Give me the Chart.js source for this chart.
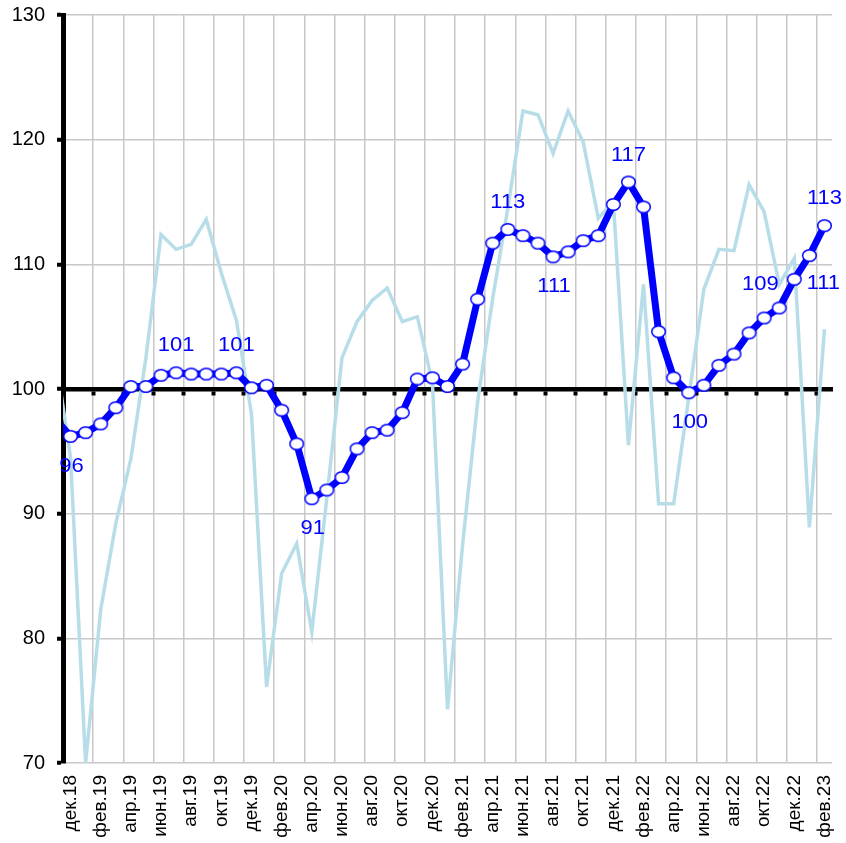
<!DOCTYPE html>
<html>
<head>
<meta charset="utf-8">
<script src="https://cdn.jsdelivr.net/npm/chart.js@4.4.0/dist/chart.umd.min.js"></script>
<style>
  html, body { margin: 0; padding: 0; background: #fff; }
  canvas { display: block; }
</style>
</head>
<body>
<canvas id="chart" width="846" height="843"></canvas>
<script>
// Monthly categories; the first one only feeds the line that enters from the left edge
const months = [
  'ноя.18', 'дек.18',
  'янв.19', 'фев.19', 'мар.19', 'апр.19', 'май.19', 'июн.19', 'июл.19', 'авг.19', 'сен.19', 'окт.19', 'ноя.19', 'дек.19',
  'янв.20', 'фев.20', 'мар.20', 'апр.20', 'май.20', 'июн.20', 'июл.20', 'авг.20', 'сен.20', 'окт.20', 'ноя.20', 'дек.20',
  'янв.21', 'фев.21', 'мар.21', 'апр.21', 'май.21', 'июн.21', 'июл.21', 'авг.21', 'сен.21', 'окт.21', 'ноя.21', 'дек.21',
  'янв.22', 'фев.22', 'мар.22', 'апр.22', 'май.22', 'июн.22', 'июл.22', 'авг.22', 'сен.22', 'окт.22', 'ноя.22', 'дек.22',
  'янв.23', 'фев.23'
];
const firstShownMonth = 'дек.18';

// Smoothed index (thick blue line with markers)
const smoothedIndex = [
  97.6, 96.2,
  96.5, 97.2, 98.5, 100.2, 100.2, 101.1, 101.3, 101.2, 101.2, 101.2, 101.3, 100.1,
  100.3, 98.3, 95.6, 91.2, 91.9, 92.9, 95.2, 96.5, 96.7, 98.1, 100.8, 100.9,
  100.2, 102.0, 107.2, 111.7, 112.8, 112.3, 111.7, 110.6, 111.0, 111.9, 112.3, 114.8,
  116.6, 114.6, 104.6, 100.9, 99.7, 100.3, 101.9, 102.8, 104.5, 105.7, 106.5, 108.8,
  110.7, 113.1
];

// Raw monthly index (thin light-blue line)
const monthlyIndex = [
  102.7, 94.5,
  70.0, 82.3, 89.2, 94.4, 102.5, 112.4, 111.2, 111.6, 113.6, 109.3, 105.5, 98.0,
  76.1, 85.2, 87.6, 80.5, 91.3, 102.5, 105.4, 107.1, 108.1, 105.4, 105.8, 100.5,
  74.3, 87.5, 99.0, 107.3, 114.5, 122.3, 122.0, 118.9, 122.3, 119.8, 113.7, 115.0,
  95.5, 108.4, 90.8, 90.8, 99.3, 108.0, 111.2, 111.1, 116.4, 114.2, 108.4, 110.5,
  88.9, 104.8
];

// Value axis
const yMin = 70;
const yMax = 130;
const yStep = 10;
const baseLevel = 100;

// Points of the smoothed index that carry a value label, and where it sits
const labelledMonths = [
  ['дек.18', 'below'], ['июл.19', 'above'], ['ноя.19', 'above'], ['апр.20', 'below'],
  ['май.21', 'above'], ['авг.21', 'below'], ['янв.22', 'above'], ['май.22', 'below'],
  ['дек.22', 'left'], ['янв.23', 'belowRight'], ['фев.23', 'above']
];

const labelOffsets = {
  above: [0, -27],
  below: [1, 30],
  left: [-34, 5],
  belowRight: [14, 28]
};

const FONT = '"Liberation Sans", Arial, sans-serif';
const BLUE = '#0000FF';
const GRID = '#c8c8c8';

// White elliptical marker with a thin blue rim
function makeMarker() {
  const c = document.createElement('canvas');
  c.width = 17; c.height = 15;
  const g = c.getContext('2d');
  g.beginPath();
  g.ellipse(8.5, 7.5, 6.8, 5.8, 0, 0, Math.PI * 2);
  g.fillStyle = '#fff';
  g.fill();
  g.lineWidth = 1.5;
  g.strokeStyle = BLUE;
  g.stroke();
  return c;
}
const marker = makeMarker();

// Grid line / tick every second month, at the category boundary
function everyOtherBoundary(color) {
  return ctx => (ctx.index !== undefined && ctx.index > 0 && ctx.index % 2 === 0) ? color : 'rgba(0,0,0,0)';
}

const valueLabels = {
  id: 'valueLabels',
  afterDatasetsDraw(chart) {
    const meta = chart.getDatasetMeta(0);
    const ctx = chart.ctx;
    ctx.save();
    ctx.font = '20px ' + FONT;
    ctx.fillStyle = BLUE;
    ctx.textAlign = 'center';
    ctx.textBaseline = 'middle';
    labelledMonths.forEach(([month, place]) => {
      const i = months.indexOf(month);
      const pt = meta.data[i];
      const off = labelOffsets[place];
      ctx.save();
      ctx.translate(pt.x + off[0], pt.y + off[1]);
      ctx.scale(1.1, 1);
      ctx.fillText(String(Math.round(smoothedIndex[i])), 0, 0);
      ctx.restore();
    });
    ctx.restore();
  }
};

new Chart(document.getElementById('chart'), {
  type: 'line',
  data: {
    labels: months,
    datasets: [
      {
        data: smoothedIndex,
        xAxisID: 'x',
        borderColor: BLUE,
        borderWidth: 7,
        pointStyle: marker,
        pointRadius: 7,
        tension: 0,
        clip: 0
      },
      {
        data: monthlyIndex,
        xAxisID: 'x',
        borderColor: '#B7DEE8',
        borderWidth: 3.5,
        pointRadius: 0,
        tension: 0,
        clip: 0
      }
    ]
  },
  options: {
    responsive: false,
    animation: false,
    devicePixelRatio: 1,
    layout: { padding: { top: 15, right: 12, left: 0, bottom: 0 } },
    plugins: { legend: { display: false }, tooltip: { enabled: false } },
    scales: {
      x: {
        type: 'category',
        min: firstShownMonth,
        offset: true,
        grid: { offset: true, color: everyOtherBoundary(GRID), lineWidth: 1.5, drawTicks: false },
        border: { display: false },
        ticks: {
          autoSkip: false,
          minRotation: 90,
          maxRotation: 90,
          padding: 12,
          color: '#000',
          font: { family: FONT, size: 19 },
          callback(value, index) {
            return index % 2 === 0 ? this.getLabelForValue(value) : '';
          }
        },
        afterFit(scale) {
          scale.height = 80;
          scale.paddingLeft = 0;
          scale.paddingRight = 0;
        }
      },
      base: {
        type: 'category',
        axis: 'x',
        position: { y: baseLevel },
        min: firstShownMonth,
        offset: true,
        grid: {
          offset: true,
          drawOnChartArea: false,
          drawTicks: true,
          tickLength: 4,
          tickWidth: 4,
          color: 'rgba(0,0,0,0)',
          tickColor: everyOtherBoundary('#000')
        },
        border: { display: true, color: '#000', width: 4.5 },
        ticks: { display: false },
        afterFit(scale) {
          scale.paddingLeft = 0;
          scale.paddingRight = 0;
        }
      },
      y: {
        min: yMin,
        max: yMax,
        ticks: { stepSize: yStep, padding: 12, color: '#000', font: { family: FONT, size: 20 } },
        grid: {
          color: ctx => (ctx.tick && ctx.tick.value === baseLevel) ? 'rgba(0,0,0,0)' : GRID,
          lineWidth: 1.5,
          tickColor: '#000',
          tickWidth: 4,
          tickLength: 6
        },
        border: { color: '#000', width: 5 },
        afterFit(scale) {
          scale.width = 63;
          scale.paddingTop = 0;
          scale.paddingBottom = 0;
        }
      }
    }
  },
  plugins: [valueLabels]
});
</script>
</body>
</html>
